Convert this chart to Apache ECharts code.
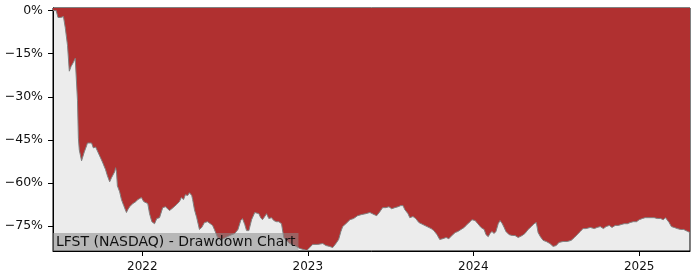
<!DOCTYPE html>
<html>
<head>
<meta charset="utf-8">
<script src="https://cdn.jsdelivr.net/npm/echarts@6/dist/echarts.min.js"></script>
<style>html,body{margin:0;padding:0;background:#fff}#c{width:700px;height:280px}</style>
</head>
<body>
<div id="c"></div>
<script>
const dates = [
'2021-06-18','2021-06-25','2021-06-29','2021-07-05','2021-07-07','2021-07-11','2021-07-15','2021-07-20','2021-07-24','2021-07-28',
'2021-08-02','2021-08-06','2021-08-08','2021-08-11','2021-08-13','2021-08-15','2021-08-20','2021-08-22','2021-08-26','2021-08-31',
'2021-09-02','2021-09-06','2021-09-11','2021-09-15','2021-09-20','2021-09-24','2021-10-01','2021-10-05','2021-10-12','2021-10-16',
'2021-10-21','2021-10-25','2021-10-27','2021-11-01','2021-11-03','2021-11-05','2021-11-07','2021-11-12','2021-11-16','2021-11-21',
'2021-11-27','2021-11-30','2021-12-04','2021-12-11','2021-12-18','2021-12-22','2021-12-26','2021-12-30','2022-01-04','2022-01-08',
'2022-01-13','2022-01-17','2022-01-22','2022-01-28','2022-02-02','2022-02-08','2022-02-15','2022-02-21','2022-02-25','2022-03-02',
'2022-03-07','2022-03-11','2022-03-17','2022-03-24','2022-03-28','2022-04-02','2022-04-06','2022-04-11','2022-04-15','2022-04-20',
'2022-04-22','2022-04-26','2022-05-01','2022-05-07','2022-05-12','2022-05-18','2022-05-25','2022-05-31','2022-06-05','2022-06-09',
'2022-06-16','2022-06-25','2022-07-04','2022-07-13','2022-07-24','2022-07-31','2022-08-06','2022-08-10','2022-08-15','2022-08-19',
'2022-08-24','2022-08-30','2022-09-06','2022-09-10','2022-09-15','2022-09-19','2022-09-23','2022-09-28','2022-10-02','2022-10-07',
'2022-10-13','2022-10-18','2022-10-24','2022-10-29','2022-11-04','2022-11-09','2022-11-22','2022-12-03','2022-12-14','2022-12-23',
'2022-12-30','2023-01-05','2023-01-12','2023-01-23','2023-02-03','2023-02-10','2023-02-18','2023-02-25','2023-03-04','2023-03-10',
'2023-03-15','2023-03-19','2023-03-26','2023-04-04','2023-04-12','2023-04-21','2023-04-30','2023-05-09','2023-05-18','2023-05-27',
'2023-06-02','2023-06-09','2023-06-15','2023-06-22','2023-06-29','2023-07-05','2023-07-12','2023-07-19','2023-07-25','2023-07-30',
'2023-08-03','2023-08-10','2023-08-14','2023-08-21','2023-08-27','2023-09-03','2023-09-12','2023-09-21','2023-09-30','2023-10-06',
'2023-10-13','2023-10-19','2023-10-26','2023-11-02','2023-11-08','2023-11-15','2023-11-22','2023-11-28','2023-12-05','2023-12-12',
'2023-12-18','2023-12-25','2023-12-29','2024-01-05','2024-01-11','2024-01-18','2024-01-25','2024-01-29','2024-02-03','2024-02-07',
'2024-02-11','2024-02-16','2024-02-20','2024-02-25','2024-02-29','2024-03-05','2024-03-09','2024-03-13','2024-03-20','2024-03-27',
'2024-04-02','2024-04-09','2024-04-13','2024-04-18','2024-04-24','2024-05-01','2024-05-08','2024-05-14','2024-05-19','2024-05-23',
'2024-05-28','2024-06-03','2024-06-10','2024-06-18','2024-06-25','2024-07-02','2024-07-08','2024-07-17','2024-07-26','2024-08-04',
'2024-08-11','2024-08-17','2024-08-24','2024-08-30','2024-09-06','2024-09-15','2024-09-24','2024-09-30','2024-10-07','2024-10-14',
'2024-10-20','2024-10-27','2024-11-02','2024-11-09','2024-11-16','2024-11-22','2024-11-29','2024-12-06','2024-12-12','2024-12-19',
'2024-12-26','2025-01-01','2025-01-08','2025-01-14','2025-01-21','2025-01-28','2025-02-03','2025-02-10','2025-02-17','2025-02-23',
'2025-02-28','2025-03-04','2025-03-08','2025-03-13','2025-03-19','2025-03-26','2025-04-02','2025-04-09','2025-04-13','2025-04-18',
'2025-04-23'
];
const drawdown = [
0,0,-2.4,-2.4,-1.9,-2.1,-5.9,-12.1,-21.1,-19.4,
-18.0,-16.6,-16.6,-31.2,-44.4,-48.5,-52.3,-52.3,-49.2,-47.1,
-46.1,-46.4,-46.1,-47.8,-47.5,-47.8,-51.3,-52.7,-55.4,-57.5,
-59.6,-58.2,-57.9,-56.1,-54.7,-56.1,-61.0,-63.1,-65.8,-67.9,
-70.3,-69.3,-68.3,-67.2,-66.5,-65.8,-66.2,-65.1,-66.5,-66.2,
-67.2,-70.7,-73.5,-74.2,-72.4,-72.1,-68.6,-68.3,-68.6,-69.6,
-69.0,-69.3,-67.6,-66.5,-65.1,-65.8,-64.1,-64.4,-63.4,-64.4,
-65.8,-69.3,-72.1,-76.2,-75.5,-73.8,-73.5,-74.2,-74.8,-76.2,
-79.0,-79.7,-79.0,-78.3,-77.6,-76.2,-73.1,-72.4,-74.5,-76.6,
-76.6,-72.8,-70.3,-70.0,-70.7,-72.1,-72.8,-71.7,-70.7,-72.4,
-72.1,-73.1,-73.5,-73.5,-74.2,-79.0,-81.1,-81.8,-82.8,-83.2,
-83.5,-82.5,-81.4,-81.4,-81.1,-81.8,-82.1,-82.5,-81.1,-79.7,
-76.9,-75.2,-74.2,-72.8,-72.4,-71.4,-71.0,-70.7,-70.3,-71.0,
-71.4,-70.0,-68.6,-68.6,-68.3,-69.0,-68.6,-68.3,-67.9,-67.9,
-69.3,-70.7,-72.1,-71.7,-72.4,-73.8,-74.5,-75.2,-75.9,-76.6,
-78.0,-79.7,-79.4,-79.0,-79.4,-78.3,-77.3,-76.9,-76.2,-75.5,
-74.5,-73.5,-72.8,-73.1,-74.2,-75.5,-76.2,-78.0,-78.7,-77.6,
-76.9,-77.6,-76.9,-74.2,-73.1,-74.2,-75.5,-76.9,-78.0,-78.3,
-78.3,-79.0,-79.4,-78.3,-77.6,-76.2,-75.2,-74.2,-73.8,-77.3,
-78.7,-80.0,-80.4,-81.1,-82.1,-81.8,-80.7,-80.4,-80.4,-80.0,
-79.0,-78.0,-76.9,-75.9,-75.9,-75.5,-75.9,-75.5,-75.2,-75.9,
-75.2,-74.8,-75.5,-74.8,-74.8,-74.5,-74.2,-74.2,-73.8,-73.5,
-73.5,-72.8,-72.4,-72.1,-72.1,-72.1,-72.1,-72.4,-72.4,-72.8,
-72.1,-72.4,-73.8,-75.2,-75.5,-75.9,-76.2,-76.2,-75.9,-76.9,
-77.3
];
const yearTicks = ['2022-01-01','2023-01-01','2024-01-01','2025-01-01'];
const yTicks = [0,-15,-30,-45,-60,-75];
const titleText = 'LFST (NASDAQ) - Drawdown Chart';

const ts = s => echarts.time.parse(s).getTime();
const chart = echarts.init(document.getElementById('c'), null, {renderer:'canvas'});
const seriesData = dates.map((d,i)=>[ts(d), drawdown[i]]);
const xTickVals = yearTicks.map(ts);
const font = 'DejaVu Sans';
chart.setOption({
  animation:false,
  backgroundColor:'#ffffff',
  grid:{left:53,right:10,top:8,bottom:29,show:true,backgroundColor:'#ececec',borderColor:'#000',borderWidth:1},
  title:{text:titleText,left:53,top:233,padding:[1,3,1,3],itemGap:0,
    backgroundColor:'rgba(140,140,140,0.55)',
    textStyle:{fontFamily:font,fontSize:14,fontWeight:'normal',color:'#111',lineHeight:16}},
  xAxis:{type:'value',min:ts(dates[0]),max:ts(dates[dates.length-1]),
    axisLine:{show:true,onZero:false,lineStyle:{color:'#000',width:1}},
    axisTick:{show:true,length:5,lineStyle:{color:'#000'},customValues:xTickVals},
    axisLabel:{fontFamily:font,fontSize:12,color:'#111',margin:10,
      customValues:xTickVals,
      formatter:v=>String(new Date(v).getFullYear())},
    splitLine:{show:false}},
  yAxis:{type:'value',min:-83.7,max:0.9,
    axisLine:{show:true,onZero:false,lineStyle:{color:'#000',width:1}},
    axisTick:{show:true,length:5,lineStyle:{color:'#000'},customValues:yTicks},
    axisLabel:{fontFamily:font,fontSize:12.5,color:'#111',margin:10,customValues:yTicks,
      formatter:v=>(v<0?'\u2212':'')+Math.abs(v)+'%'},
    splitLine:{show:false}},
  series:[{type:'line',data:seriesData,showSymbol:false,smooth:false,
    lineStyle:{color:'#808080',width:1},
    areaStyle:{color:'#b03030',opacity:1,origin:'end'}}]
});
</script>
</body>
</html>
